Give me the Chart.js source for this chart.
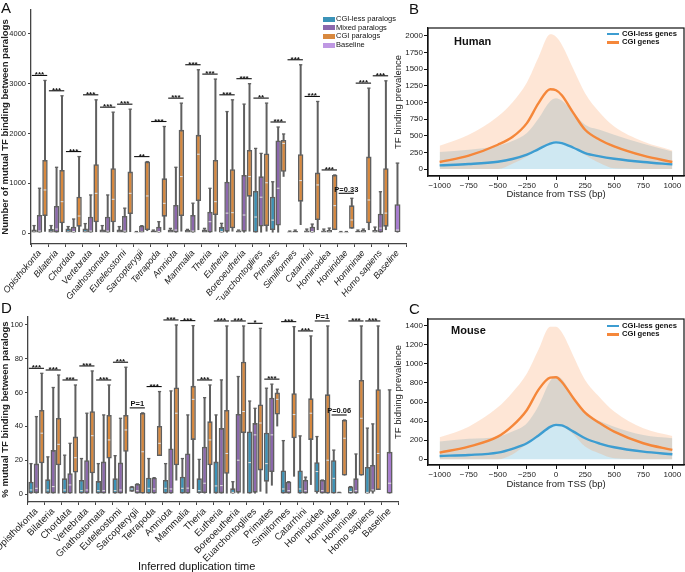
<!DOCTYPE html>
<html>
<head>
<meta charset="utf-8">
<script src="https://cdn.jsdelivr.net/npm/chart.js@4.4.1/dist/chart.umd.min.js"></script>
<style>
  body { margin: 0; background: #fff; font-family: "Liberation Sans", Arial, sans-serif; }
  #wrap { position: relative; width: 685px; height: 572px; overflow: hidden; }
  canvas { position: absolute; }
  .t { position: absolute; white-space: nowrap; color: #111; line-height: 1; }
  .letter { font-size: 15px; }
  .leg div { height: 8.6px; line-height: 8.6px; font-size: 7.5px; display: flex; align-items: center; }
  .leg span { display: inline-block; width: 12px; margin-right: 1px; }
  .legA span { height: 5px; }
  .legB div { font-weight: bold; height: 8.2px; line-height: 8.2px; font-size: 7.6px; }
  .legB span { height: 2.5px; margin-right: 3px; }
</style>
</head>
<body>
<div id="wrap">
  <canvas id="chartA" width="410" height="300" style="left:0;top:0"></canvas>
  <canvas id="chartD" width="400" height="282" style="left:0;top:290px"></canvas>
  <canvas id="chartB" width="300" height="215" style="left:385px;top:0"></canvas>
  <canvas id="chartC" width="300" height="215" style="left:385px;top:290px"></canvas>

  <div class="t letter" style="left:1px;top:0px">A</div>
  <div class="t letter" style="left:409px;top:1px">B</div>
  <div class="t letter" style="left:409px;top:301px">C</div>
  <div class="t letter" style="left:1px;top:300px">D</div>

  <div class="t leg legA" style="left:323px;top:15px">
    <div><span style="background:#3b93b8"></span>CGI-less paralogs</div>
    <div><span style="background:#8c68ad"></span>Mixed paralogs</div>
    <div><span style="background:#d8893f"></span>CGI paralogs</div>
    <div><span style="background:#bf98e3"></span>Baseline</div>
  </div>

  <div class="t" style="left:454px;top:36px;font-size:11px;font-weight:bold">Human</div>
  <div class="t leg legB" style="left:607px;top:30px">
    <div><span style="background:#3d9dd1"></span>CGI-less genes</div>
    <div><span style="background:#f5873a"></span>CGI genes</div>
  </div>

  <div class="t" style="left:451px;top:325px;font-size:11px;font-weight:bold">Mouse</div>
  <div class="t leg legB" style="left:607px;top:322px">
    <div><span style="background:#3d9dd1"></span>CGI-less genes</div>
    <div><span style="background:#f5873a"></span>CGI genes</div>
  </div>

  <div class="t" style="left:138px;top:561px;font-size:11px">Inferred duplication time</div>
</div>

<script>
// ---- data: duplication-time categories ----
const taxa = ["Opisthokonta", "Bilateria", "Chordata", "Vertebrata", "Gnathostomata",
  "Euteleostomi", "Sarcopterygii", "Tetrapoda", "Amniota", "Mammalia", "Theria",
  "Eutheria", "Boreoeutheria", "Euarchontoglires", "Primates", "Simiiformes",
  "Catarrhini", "Hominoidea", "Hominidae", "Homininae", "Homo sapiens", "Baseline"];
const seriesNames = ["CGI-less paralogs", "Mixed paralogs", "CGI paralogs", "Baseline"];

// box stats: [whisker low, q1, median, q3, whisker high]
// panel A: number of mutual TF binding
const aCgiLess = [[0,0,20,70,150],[0,0,20,80,150],[0,0,20,90,130],[0,0,20,90,190],[0,0,15,70,150],
  [0,0,15,70,130],[0,0,5,20,30],[0,0,10,50,60],[0,0,15,70,94],[0,0,15,60,74],[0,0,15,70,94],
  [0,0,30,120,195],[0,0,15,50,60],[0,0,322,845,1700],[0,60,260,730,1030],[0,0,10,30,40],
  [0,0,15,50,80],[0,0,15,50,80],[0,0,5,20,30],[0,0,10,40,60],[0,0,20,60,120]];
const aMixed = [[0,0,40,362,900],[0,0,80,543,1321],[0,0,30,127,282],[0,0,40,329,765],[0,0,40,329,765],
  [0,0,40,342,500],[0,0,20,148,148],[0,0,30,127,228],[0,0,60,563,1321],[0,0,40,362,600],[0,0,228,430,899],
  [0,27,400,1030,2440],[0,27,362,1167,2590],[0,130,720,1140,1600],[0,150,900,1860,2130],[0,0,10,40,60],
  [0,0,30,127,180],[0,0,20,60,100],[0,0,5,20,30],[0,0,20,60,80],[0,0,100,390,830]];
const aCgi = [[26,342,865,1469,3065],[20,195,630,1268,2757],[20,127,342,731,1536],[20,215,798,1382,2676],
  [20,215,678,1301,2428],[20,382,798,1234,2488],[40,60,745,1435,1435],[60,329,597,1100,2140],
  [30,342,1134,2073,2609],[60,644,1583,1972,3280],[30,362,630,1469,3092],[30,94,409,1281,2676],
  [30,731,1134,1670,3000],[30,141,1010,1600,2610],[1130,1230,1800,1870,1990],[161,631,1053,1583,3380],
  [60,262,966,1214,2643],[60,60,550,1167,1167],[87,87,262,557,698],[60,195,664,1536,2911],
  [60,127,400,1301,3058]];
const aBaseline = [0,20,60,580,1405];
const aSig = ["***","***","***","***","***","***","**","***","***","***","***","***","***","**",
  "***","***","***","***","P=0.33","***","***"];
const aTicks = [0, 1000, 2000, 3000, 4000];

// panel D: % mutual TF binding
const dCgiLess = [[0,0.4,2.4,7.3,18],[0,0.4,2.4,8.7,22],[0,0,2.4,9.3,23],[0,0,2,8.3,21],[0,0,2,7.7,18],
  [0,0,2,9.3,22.7],[1.4,1.4,3,4.4,4.4],[0,0,3.4,9.7,21],[0,0,3.4,8.3,18],[0,0,3.4,10.3,21],[0,0.6,2,9.3,20.5],
  [0,0.4,4.8,19.2,46.8],[0,0,1,3.4,7.3],[0,0,18.6,37,55],[0,7.3,18,36.3,62.6],[0,0,3,14,31.6],
  [0,0,3,14,34.4],[0,1,13.3,18.8,34],[0,0,9.3,20,26],[0,0,1.5,4.4,4.4],[0,0,1,16,39]];
const dMixed = [[0,0.5,3.4,18,45.8],[0,0.4,4.4,26,63],[0,0,5.4,12.3,30],[0,0,2.4,20,47.8],[0,0,2,19.2,46.8],
  [0,0,2.4,18.6,44.8],[0,0,2,6,6],[0,0,3,9.7,9.7],[0,0,3,27,61],[0,0,3.5,24,46.8],[0,0.6,6.4,28,57],
  [0,0.4,5,39,67.5],[0,0.8,20,47.4,69.5],[0,0.8,35,42,50.7],[5,13,35,57,65],[0,0,2,7.3,7.3],
  [0,0,2,8.3,10],[0,0,2,8.3,8.3],[0,0,0.3,1,1],[0,0,2,9.3,23.7],[0,1.4,2.4,17.2,41.5]];
const dCgi = [[0,18.2,36,49.7,71.4],[0,17,29.4,45,70.4],[0,12.7,21.5,34,64.5],[0,12.3,34.5,49,72.8],
  [0,21,32,46.8,64.5],[0,25,37.9,46.8,75],[0,0,25,48,48],[22.5,22.5,30,40.3,60.6],[8,17,47.8,63,100],
  [3,32,56,64,99.6],[0,17,32,43,64.5],[0,12,24,49.7,99.4],[0,36,48.8,78.3,99.4],[1.4,14,42,53,98],
  [40,47,56,60,62],[10.3,33,47,59.6,99],[5.4,32,47.8,56.6,93.5],[0,0,20,59,99.4],
  [10.9,10.9,33,43.8,43.8],[10.9,10.9,44.8,67.5,99.4],[2.4,2.4,24,62,99.4]];
const dBaseline = [0,0,6.4,25,61.6];
const dSig = ["***","***","***","***","***","***","P=1","***","***","***","***","***","***","*",
  "***","***","***","P=1","P=0.06","***","***"];
const dTicks = [0, 20, 40, 60, 80, 100];

// panels B and C: TF binding prevalence around TSS
const tssX = [-1000, -750, -500, -375, -250, -150, -50, 0, 50, 150, 250, 375, 500, 750, 1000];
const tssTicks = [-1000, -750, -500, -250, 0, 250, 500, 750, 1000];
const humanLessMean = [55, 75, 110, 150, 215, 300, 380, 400, 390, 320, 240, 190, 155, 105, 70];
const humanLessUpper = [255, 290, 350, 420, 540, 760, 1020, 1065, 1030, 850, 665, 590, 515, 380, 265];
const humanCgiMean = [105, 200, 365, 480, 690, 990, 1200, 1185, 1110, 840, 590, 440, 340, 200, 105];
const humanCgiUpper = [350, 515, 790, 1000, 1300, 1680, 2025, 1990, 1870, 1500, 1140, 850, 640, 415, 280];
const humanCgiLower = [0, 0, 0, 80, 190, 300, 400, 420, 410, 320, 210, 90, 10, 0, 0];
const humanTicks = [0, 250, 500, 750, 1000, 1250, 1500, 1750, 2000];
const mouseLessMean = [35, 45, 70, 110, 168, 250, 340, 360, 355, 290, 220, 165, 126, 80, 52];
const mouseLessUpper = [185, 215, 237, 290, 377, 560, 820, 872, 840, 650, 482, 400, 342, 255, 220];
const mouseCgiMean = [70, 133, 237, 350, 517, 730, 855, 860, 810, 640, 489, 380, 290, 168, 98];
const mouseCgiUpper = [230, 342, 544, 700, 900, 1150, 1390, 1389, 1330, 1080, 830, 650, 500, 325, 244];
const mouseCgiLower = [0, 0, 0, 50, 160, 250, 340, 360, 345, 260, 133, 60, 10, 0, 0];
const mouseTicks = [0, 200, 400, 600, 800, 1000, 1200, 1400];

Chart.defaults.font.family = '"Liberation Sans", Arial, sans-serif';
Chart.defaults.color = "#222";

const boxColors = ["#3b93b8", "#8c68ad", "#d8893f", "#a77bd1"];
const edge = "#5f5f5f";

// medians, whisker caps and significance labels drawn from the box stats
const boxExtras = {
  id: "boxExtras",
  afterDatasetsDraw(chart, args, o) {
    const ctx = chart.ctx;
    const yS = chart.scales.y;
    ctx.save();
    o.stats.forEach((series, k) => {
      const meta = chart.getDatasetMeta(k);
      series.forEach((s, i) => {
        if (!s) return;
        const el = meta.data[i];
        const hw = el.width / 2;
        const yHi = yS.getPixelForValue(s[4]);
        ctx.strokeStyle = edge;
        ctx.lineWidth = 1.3;
        ctx.beginPath();
        ctx.moveTo(el.x - hw * 0.6, yHi);
        ctx.lineTo(el.x + hw * 0.6, yHi);
        ctx.stroke();
        if (s[3] > s[1]) {
          const ym = yS.getPixelForValue(s[2]);
          ctx.strokeStyle = "#e4e4e4";
          ctx.lineWidth = 1;
          ctx.beginPath();
          ctx.moveTo(el.x - hw + 1.4, ym);
          ctx.lineTo(el.x + hw - 1.4, ym);
          ctx.stroke();
        }
      });
    });
    ctx.fillStyle = "#111";
    ctx.strokeStyle = "#111";
    ctx.textAlign = "center";
    o.sig.forEach((txt, i) => {
      if (!txt) return;
      const a = chart.getDatasetMeta(0).data[i];
      const b = chart.getDatasetMeta(2).data[i];
      let top = Infinity;
      for (let k = 0; k < 3; k++) {
        const s = o.stats[k][i];
        if (s) top = Math.min(top, yS.getPixelForValue(s[4]));
      }
      const ly = top - 5;
      const x0 = a.x - a.width / 2 + 0.5;
      const x1 = b.x + b.width / 2 - 0.5;
      ctx.lineWidth = 1.1;
      ctx.beginPath();
      ctx.moveTo(x0, ly);
      ctx.lineTo(x1, ly);
      ctx.stroke();
      const star = txt[0] === "*";
      ctx.font = "bold " + (star ? 8 : 7.5) + 'px "Liberation Sans", Arial';
      ctx.fillText(txt, (x0 + x1) / 2, star ? ly + 2 : ly - 1.5);
    });
    ctx.restore();
  },
};

function makeBoxChart(id, stats, sig, yMin, yMax, yTicks, cfg) {
  // box and whisker of one series share a stack, so they sit in the same slot
  const boxSets = stats.map((series, k) => ({
    label: seriesNames[k],
    stack: "s" + k,
    data: series.map((s) => (s ? [s[1], s[3]] : null)),
    backgroundColor: boxColors[k],
    borderColor: edge,
    borderWidth: 1.6,
    borderSkipped: false,
    skipNull: true,
    maxBarThickness: 6,
    categoryPercentage: 0.96,
    barPercentage: 1,
    order: 1,
  }));
  const whiskerSets = stats.map((series, k) => ({
    label: seriesNames[k] + " range",
    stack: "s" + k,
    data: series.map((s) => (s ? [s[0], s[4]] : null)),
    backgroundColor: edge,
    borderWidth: 0,
    skipNull: true,
    maxBarThickness: 2,
    categoryPercentage: 0.96,
    barPercentage: 1,
    order: 2,
  }));

  new Chart(document.getElementById(id), {
    type: "bar",
    data: { labels: taxa, datasets: boxSets.concat(whiskerSets) },
    plugins: [boxExtras],
    options: {
      responsive: false,
      devicePixelRatio: 1,
      animation: false,
      layout: { padding: cfg.padding, autoPadding: false },
      plugins: {
        legend: { display: false },
        tooltip: { enabled: false },
        boxExtras: { stats: stats, sig: sig },
      },
      scales: {
        x: {
          type: "category",
          offset: true,
          grid: { drawOnChartArea: false, tickLength: 3, color: "#444" },
          border: { display: true, color: "#444", width: 1.3 },
          ticks: {
            autoSkip: false,
            minRotation: cfg.rot,
            maxRotation: cfg.rot,
            padding: 1,
            color: "#222",
            font: cfg.xFont,
          },
          afterFit: (s) => {
            s.height = cfg.xHeight;
            s.paddingLeft = 0;
            s.paddingRight = 0;
          },
        },
        y: {
          stacked: false,
          min: yMin,
          max: yMax,
          afterBuildTicks: (s) => {
            s.ticks = yTicks.map((v) => ({ value: v }));
          },
          grid: { drawOnChartArea: false, tickLength: 3, color: "#444" },
          border: { display: true, color: "#444", width: 1.3 },
          ticks: { font: { size: 7.5 }, padding: 2, callback: (v) => String(v) },
          title: {
            display: true,
            text: cfg.yTitle,
            font: { size: 9.5, weight: "bold" },
            padding: { top: 0, bottom: 1 },
          },
          afterFit: (s) => {
            s.width = cfg.yWidth;
            s.paddingTop = 0;
            s.paddingBottom = 0;
          },
        },
      },
    },
  });
}

const nulls = Array(21).fill(null);
makeBoxChart("chartA",
  [aCgiLess.concat([null]), aMixed.concat([null]), aCgi.concat([null]), nulls.concat([aBaseline])],
  aSig, -220, 4480, aTicks, {
    padding: { top: 10, right: 4, left: 0, bottom: 0 },
    rot: 50,
    xFont: { size: 9, style: "italic" },
    xHeight: 56,
    yWidth: 31,
    yTitle: "Number of mutual TF binding between paralogs",
  });

makeBoxChart("chartD",
  [dCgiLess.concat([null]), dMixed.concat([null]), dCgi.concat([null]), nulls.concat([dBaseline])],
  dSig, -4.7, 104.7, dTicks, {
    padding: { top: 27, right: 2, left: 0, bottom: 0 },
    rot: 45,
    xFont: { size: 9.5 },
    xHeight: 70,
    yWidth: 28,
    yTitle: "% mutual TF binding between paralogs",
  });

// ---- TSS profile panels ----
const frame = {
  id: "frame",
  afterDraw(chart) {
    const a = chart.chartArea;
    const ctx = chart.ctx;
    ctx.save();
    ctx.strokeStyle = "#111";
    ctx.lineWidth = 1.2;
    ctx.strokeRect(a.left, a.top, a.right - a.left, a.bottom - a.top);
    ctx.restore();
  },
};

function pts(vals) {
  return tssX.map((x, i) => ({ x: x, y: vals[i] }));
}

function fmtMinus(v) {
  return v < 0 ? "\u2212" + Math.abs(v) : String(v);
}

function makeProfile(id, lessMean, lessUpper, cgiMean, cgiUpper, cgiLower, yMin, yMax, yTicks, cfg) {
  const line = { pointRadius: 0, cubicInterpolationMode: "monotone" };
  new Chart(document.getElementById(id), {
    type: "line",
    data: {
      datasets: [
        { ...line, label: "CGI-less genes", data: pts(lessMean), borderColor: "#3d9dd1", borderWidth: 2.4, fill: false, order: 0 },
        { ...line, label: "CGI genes", data: pts(cgiMean), borderColor: "#f5873a", borderWidth: 2.4, fill: false, order: 0 },
        { ...line, label: "CGI upper", data: pts(cgiUpper), borderWidth: 0, borderColor: "rgba(0,0,0,0)", fill: "+1", backgroundColor: "rgba(252,155,90,0.25)", order: 1 },
        { ...line, label: "CGI lower", data: pts(cgiLower), borderWidth: 0, borderColor: "rgba(0,0,0,0)", fill: false, order: 1 },
        { ...line, label: "CGI-less upper", data: pts(lessUpper), borderWidth: 0, borderColor: "rgba(0,0,0,0)", fill: "origin", backgroundColor: "rgba(160,210,230,0.5)", order: 2 },
      ],
    },
    plugins: [frame],
    options: {
      responsive: false,
      devicePixelRatio: 1,
      animation: false,
      layout: { padding: cfg.padding, autoPadding: false },
      plugins: { legend: { display: false }, tooltip: { enabled: false } },
      scales: {
        x: {
          type: "linear",
          min: -1100,
          max: 1100,
          afterBuildTicks: (s) => {
            s.ticks = tssTicks.map((v) => ({ value: v }));
          },
          grid: { drawOnChartArea: false, tickLength: 4, color: "#111" },
          border: { display: true, color: "#111", width: 1.2 },
          ticks: { font: { size: 8 }, padding: 1, maxRotation: 0, callback: fmtMinus },
          title: { display: true, text: "Distance from TSS (bp)", font: { size: 9.5 }, padding: { top: 0, bottom: 0 } },
          afterFit: (s) => {
            s.height = cfg.xHeight;
            s.paddingLeft = 0;
            s.paddingRight = 0;
          },
        },
        y: {
          min: yMin,
          max: yMax,
          afterBuildTicks: (s) => {
            s.ticks = yTicks.map((v) => ({ value: v }));
          },
          grid: { drawOnChartArea: false, tickLength: 4, color: "#111" },
          border: { display: true, color: "#111", width: 1.2 },
          ticks: { font: { size: 8 }, padding: 1, callback: (v) => String(v) },
          title: { display: true, text: cfg.yTitle, font: { size: 9.5 }, padding: { top: 8, bottom: 2 } },
          afterFit: (s) => {
            s.width = 43;
            s.paddingTop = 0;
            s.paddingBottom = 0;
          },
        },
      },
    },
  });
}

makeProfile("chartB", humanLessMean, humanLessUpper, humanCgiMean, humanCgiUpper, humanCgiLower,
  -105, 2120, humanTicks, { padding: { top: 28, right: 1, left: 0, bottom: 15 }, xHeight: 24, yTitle: "TF binding prevalence" });
makeProfile("chartC", mouseLessMean, mouseLessUpper, mouseCgiMean, mouseCgiUpper, mouseCgiLower,
  -60, 1470, mouseTicks, { padding: { top: 29, right: 1, left: 0, bottom: 15 }, xHeight: 25, yTitle: "TF bidning prevalence" });
</script>
</body>
</html>
